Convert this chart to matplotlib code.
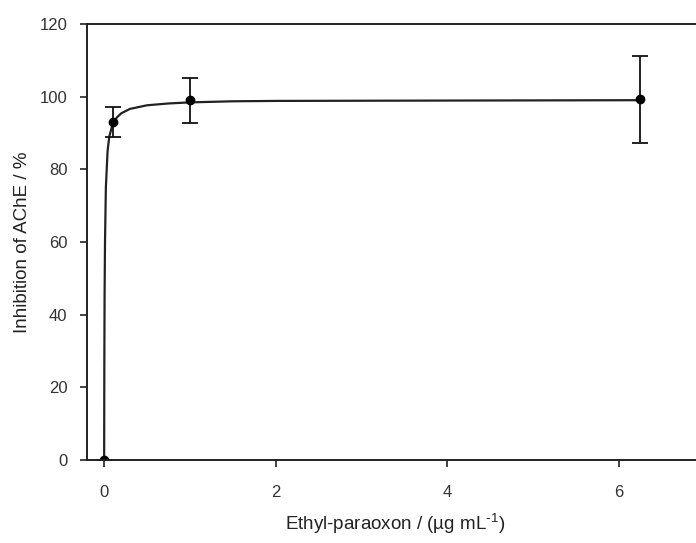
# Import the libraries
import numpy as np
import matplotlib
matplotlib.use('Agg')
import matplotlib.pyplot as plt

plt.rcParams['font.family'] = ['Liberation Sans', 'DejaVu Sans']

# measured points (concentration, inhibition, error)
conc = [0.0, 0.1, 1.0, 6.25]
inhibition = [0.0, 93.0, 99.0, 99.2]
err = [0.0, 4.2, 6.2, 12.0]

# fitted curve
curve_x = [0.0, 0.002, 0.005, 0.01, 0.02, 0.04, 0.06, 0.1, 0.15, 0.2, 0.3,
           0.5, 0.75, 1.0, 1.5, 2.0, 4.0, 6.25]
curve_y = [0.0, 25.0, 45.0, 60.0, 75.0, 85.0, 89.0, 92.5, 94.3, 95.4, 96.6,
           97.6, 98.1, 98.4, 98.7, 98.8, 98.9, 99.0]

fig = plt.figure(figsize=(6.96, 5.43), dpi=100)
ax = fig.add_axes([0.125, 0.153, 0.887, 0.803])

ax.plot(curve_x, curve_y, color='#222222', lw=1.6)
ax.errorbar(conc, inhibition, yerr=err, fmt='o', color='black', ms=6,
            ecolor='#111111', elinewidth=1.3, capsize=6, capthick=1.3)

ax.set_xlim(-0.2, 7.0)
ax.set_ylim(0, 120)
ax.set_xticks([0, 2, 4, 6])
ax.set_yticks([0, 20, 40, 60, 80, 100, 120])
ax.tick_params(direction='out', length=5, width=1.2, labelsize=12,
               colors='#222222', labelcolor='#333333')
ax.tick_params(axis='x', pad=13)
ax.tick_params(axis='y', pad=9)
for s in ax.spines.values():
    s.set_linewidth(1.4)
    s.set_color('#222222')

ax.set_xlabel('Ethyl-paraoxon / (\u00b5g mL$^{\u2010\\mathregular{1}}$)',
              fontsize=13.5, color='#222222', labelpad=8)
ax.set_ylabel('Inhibition of AChE / %', fontsize=13.5, color='#222222',
              labelpad=6)

fig.savefig('out.png', dpi=100)
